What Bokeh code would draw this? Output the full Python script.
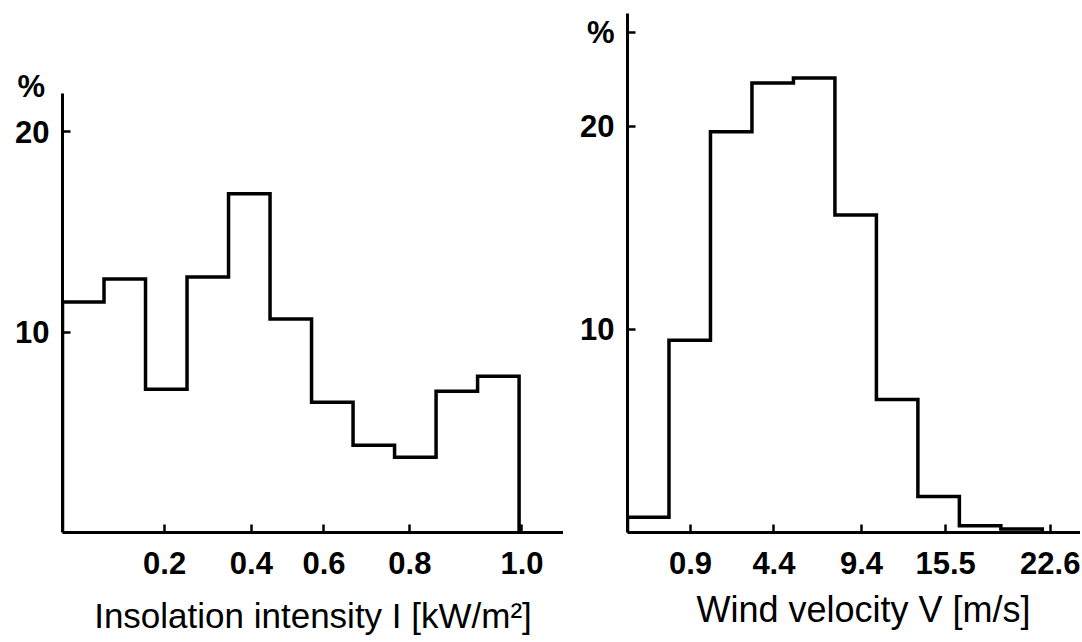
from bokeh.plotting import figure
from bokeh.layouts import row
from bokeh.models import Range1d, FixedTicker, Title
from bokeh.embed import file_html
from bokeh.resources import INLINE

# ---------------- data ----------------
# Insolation intensity histogram (11 equal-width classes), percent
insolation_pct = [11.5, 12.65, 7.15, 12.75, 16.9, 10.65, 6.5, 4.35, 3.75, 7.05, 7.8]
insolation_tick_pos = [2.46, 4.55, 6.3, 8.37, 11.07]
insolation_tick_labels = ["0.2", "0.4", "0.6", "0.8", "1.0"]

# Wind velocity histogram (10 equal-width classes), percent
wind_pct = [0.75, 9.47, 19.75, 22.15, 22.4, 15.65, 6.56, 1.77, 0.33, 0.17]
wind_tick_pos = [1.52, 3.53, 5.64, 7.67, 10.19]
wind_tick_labels = ["0.9", "4.4", "9.4", "15.5", "22.6"]

y_ticks = [10, 20]
y_tick_labels = ["10", "20"]
unit_label = "%"

FONT = "Liberation Sans"
H = 640


def make_panel(values, tick_pos, tick_labels, width, x_end, y_end,
               b_left, b_top, b_bottom, yt, ytl):
    p = figure(width=width, height=H, output_backend="svg", toolbar_location=None,
               x_range=Range1d(0, x_end), y_range=Range1d(0, y_end),
               min_border_left=b_left, min_border_right=0,
               min_border_top=b_top, min_border_bottom=b_bottom)
    p.frame_align = False
    p.outline_line_color = None
    p.xgrid.visible = False
    p.ygrid.visible = False
    p.background_fill_color = "white"
    p.border_fill_color = "white"

    # step outline built from the class edges and values
    n = len(values)
    xs = [0] + list(range(n + 1))
    ys = [0] + list(values) + [0]
    p.step(xs, ys, mode="after", line_color="black", line_width=3.5,
           line_join="miter")

    for ax in (p.xaxis[0], p.yaxis[0]):
        ax.axis_line_width = 3
        ax.axis_line_color = "black"
        ax.major_tick_line_width = 2.5
        ax.major_tick_line_color = "black"
        ax.major_tick_in = 8
        ax.major_tick_out = 0
        ax.minor_tick_line_color = None
        ax.major_label_text_font = FONT
        ax.major_label_text_font_size = "31px"
        ax.major_label_text_font_style = "bold"
        ax.major_label_text_color = "black"

    p.xaxis.ticker = FixedTicker(ticks=tick_pos)
    p.xaxis.major_label_overrides = {t: l for t, l in zip(tick_pos, tick_labels)}
    p.xaxis.major_label_standoff = 19

    p.yaxis.ticker = FixedTicker(ticks=yt)
    p.yaxis.major_label_overrides = {t: l for t, l in zip(yt, ytl)}
    p.yaxis.major_label_standoff = 13
    return p


# ---- left: insolation ----
p1 = make_panel(insolation_pct, insolation_tick_pos, insolation_tick_labels,
                563, 12.07, 21.9, 62, 93, 108, y_ticks, y_tick_labels)
p1.xaxis.axis_label = "Insolation intensity I [kW/m²]"
p1.xaxis.axis_label_text_font = FONT
p1.xaxis.axis_label_text_font_size = "35px"
p1.xaxis.axis_label_text_font_style = "normal"
p1.xaxis.axis_label_text_color = "black"
p1.xaxis.axis_label_standoff = 19
p1.title.text = unit_label
p1.title.align = "left"
p1.title.offset = -45
p1.title.standoff = -20
p1.title.text_font = FONT
p1.title.text_font_size = "31px"
p1.title.text_font_style = "bold"
p1.title.text_color = "black"

# ---- right: wind ----
wind_y_ticks = y_ticks + [24.64]
wind_y_labels = y_tick_labels + [unit_label]
p2 = make_panel(wind_pct, wind_tick_pos, wind_tick_labels,
                517, 10.92, 25.58, 64, 13, 106, wind_y_ticks, wind_y_labels)
p2.add_layout(Title(text="Wind velocity V [m/s]", align="left", offset=69,
                    text_font=FONT, text_font_size="36px", text_font_style="normal",
                    text_color="black", standoff=21), "below")

layout = row(p1, p2)
open("out.html", "w").write(file_html(layout, INLINE))
